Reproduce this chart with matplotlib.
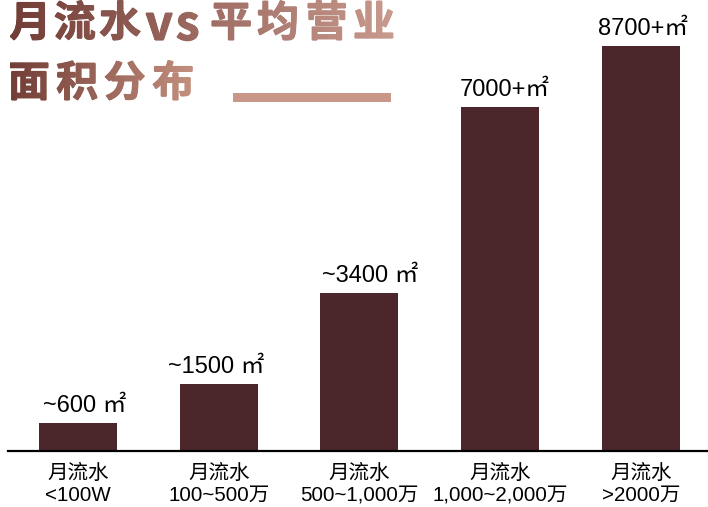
import matplotlib
matplotlib.use("Agg")
import matplotlib.pyplot as plt
import numpy as np
from matplotlib.font_manager import FontProperties
from matplotlib.textpath import TextPath
from matplotlib.patches import PathPatch, Rectangle
from matplotlib.path import Path
from matplotlib.transforms import Affine2D
from matplotlib.colors import LinearSegmentedColormap

plt.rcParams['font.family'] = ['Liberation Sans', 'Noto Sans CJK SC']

# data
categories = ["月流水\n<100W", "月流水\n100~500万", "月流水\n500~1,000万",
              "月流水\n1,000~2,000万", "月流水\n>2000万"]
area = [600, 1440, 3400, 7390, 8700]
bar_labels = ["~600 ㎡", "~1500 ㎡", "~3400 ㎡", "7000+㎡", "8700+㎡"]
title_lines = ["月流水vs平均营业", "面积分布"]

W, H = 708, 507
fig = plt.figure(figsize=(W / 100, H / 100), dpi=100)

# main bar axes (pixel-based placement)
base_px, top_px = 451, 46
ax = fig.add_axes([8 / W, (H - base_px) / H, 700 / W, (base_px - top_px) / H])
x = np.arange(len(area))
ax.bar(x, area, width=0.554, color='#4b272b')
ax.set_xlim(-0.497, 4.476)
ax.set_ylim(0, 8700)
for s in ['top', 'right', 'left']:
    ax.spines[s].set_visible(False)
ax.spines['bottom'].set_linewidth(1.6)
ax.spines['bottom'].set_color('black')
ax.set_yticks([])
ax.set_xticks(x)
ax.set_xticklabels(categories, fontsize=14.8, linespacing=1.2, color='black')
ax.tick_params(axis='x', length=0, pad=9.5)

dx = [7, -3, 11, 5, 2]
for i, (v, lab) in enumerate(zip(area, bar_labels)):
    ax.annotate(lab, (i, v), xytext=(dx[i] * 0.72, 8), textcoords='offset points',
                ha='center', va='baseline', fontsize=17, color='black',
                annotation_clip=False)

# overlay for the gradient title
ov = fig.add_axes([0, 0, 1, 1], zorder=5)
ov.set_xlim(0, W)
ov.set_ylim(0, H)
ov.axis('off')

fp = FontProperties(family='Noto Sans CJK SC', weight='heavy')
size = 42
line_x = [[10, 55, 100, 146, 177, 212, 258, 308, 355], [10, 57, 105, 153]]
line_bottom = [40, 100]
grad = [('#723d36', '#c99a8e', 10, 395), ('#723d36', '#c4907f', 10, 195)]
ref = TextPath((0, 0), "月", size=size, prop=fp).get_extents()
g = np.linspace(0, 1, 256).reshape(1, -1)
for text, xs, bot, (c0, c1, gx0, gx1) in zip(title_lines, line_x, line_bottom, grad):
    paths = []
    baseline = H - bot - ref.y0
    for ch, cx in zip(text, xs):
        sz = 48 if ch.isascii() else size
        tp = TextPath((0, 0), ch, size=sz, prop=fp)
        ext = tp.get_extents()
        yb = H - bot if ch.isascii() else baseline
        tr = Affine2D().translate(cx - ext.x0, yb)
        paths.append(tr.transform_path(tp))
    comp = Path.make_compound_path(*paths)
    cmap = LinearSegmentedColormap.from_list('g', [c0, c1])
    # a few slightly shifted copies make the strokes a bit heavier
    for ox, oy in [(0, 0), (0.6, 0), (-0.6, 0), (0, 0.6), (0, -0.6)]:
        p = Affine2D().translate(ox, oy).transform_path(comp)
        patch = PathPatch(p, facecolor='none', edgecolor='none')
        ov.add_patch(patch)
        im = ov.imshow(g, cmap=cmap, extent=[gx0, gx1, H - bot - 10, H - bot + 50],
                       aspect='auto', interpolation='bilinear')
        im.set_clip_path(patch)
ov.set_xlim(0, W)
ov.set_ylim(0, H)

# decorative underline
ov.add_patch(Rectangle((233, H - 102), 158, 9, facecolor='#c9968a', edgecolor='none'))

fig.savefig("out.png", dpi=100)
